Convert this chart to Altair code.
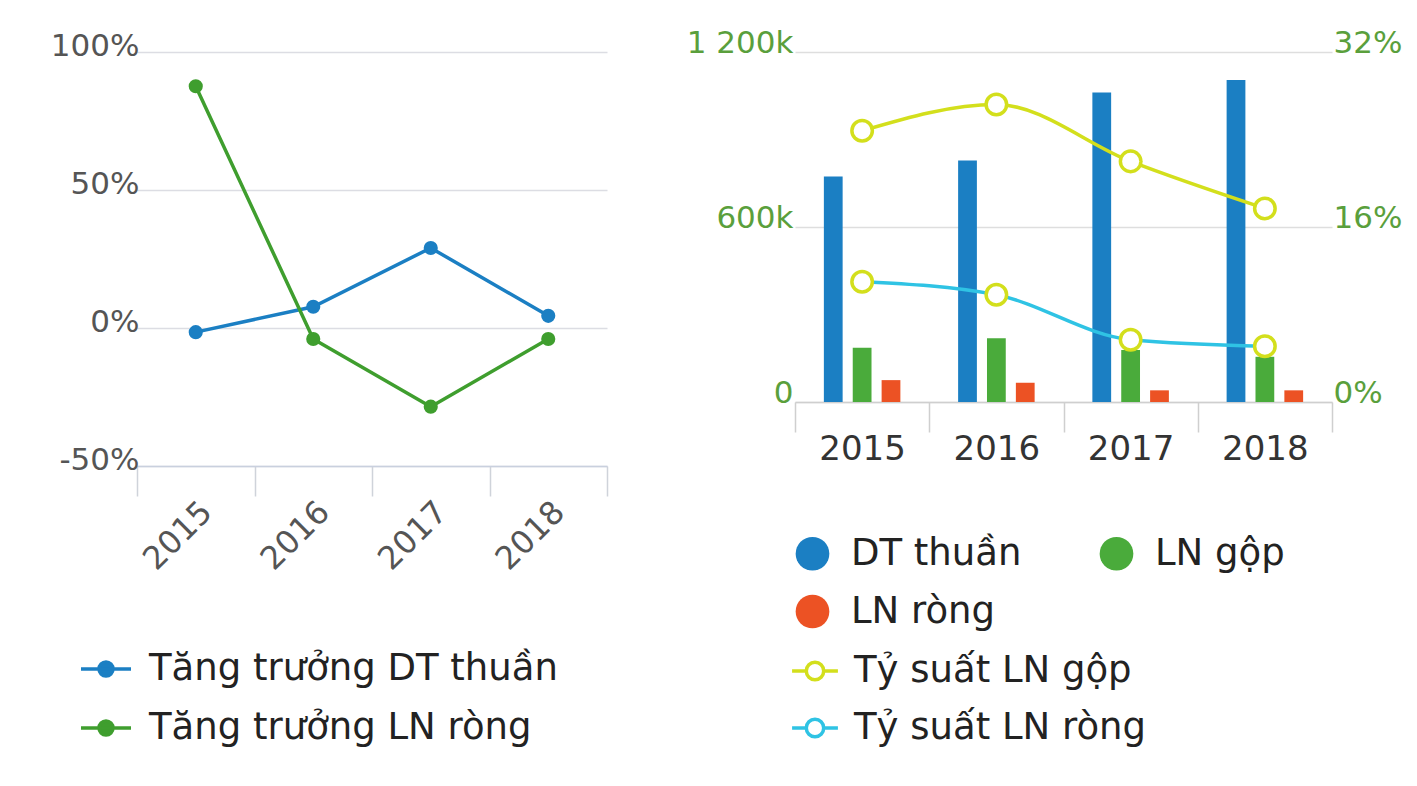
import altair as alt
import pandas as pd

years = ["2015", "2016", "2017", "2018"]

# Left panel: growth (%)
growth_names = ["Tăng trưởng DT thuần", "Tăng trưởng LN ròng"]
growth_dt = [-1.5, 7.7, 29.0, 4.4]
growth_ln = [87.6, -4.0, -28.5, -4.0]

# Right panel: values (k) and margins (%)
bar_names = ["DT thuần", "LN gộp", "LN ròng"]
bar_legend_order = ["DT thuần", "LN ròng", "LN gộp"]
dt_thuan = [773, 828, 1061, 1104]
ln_gop = [186, 219, 178, 155]
ln_rong = [75, 66, 40, 40]

ratio_names = ["Tỷ suất LN gộp", "Tỷ suất LN ròng"]
ts_gop = [24.8, 27.2, 22.0, 17.7]
ts_rong = [11.0, 9.8, 5.7, 5.1]

FONT = "DejaVu Sans"
BLUE = "#1b7fc3"
GREEN_L = "#3f9e2e"
GREEN_B = "#4aab3b"
RED = "#ec5224"
YELLOW = "#d3df1c"
CYAN = "#2fc3e4"
AXIS_GREEN = "#5a9f3c"

left_df = pd.DataFrame({
    "year": years * 2,
    "value": growth_dt + growth_ln,
    "series": [growth_names[0]] * 4 + [growth_names[1]] * 4,
})

bars_df = pd.DataFrame({
    "year": years * 3,
    "value": dt_thuan + ln_gop + ln_rong,
    "series": [bar_names[0]] * 4 + [bar_names[1]] * 4 + [bar_names[2]] * 4,
})

ratio_df = pd.DataFrame({
    "year": years * 2,
    "value": ts_gop + ts_rong,
    "series": [ratio_names[0]] * 4 + [ratio_names[1]] * 4,
})

line_dot_path = ("M-1,0L1,0M-0.28,0A0.28,0.28,0,1,1,0.28,0"
                 "A0.28,0.28,0,1,1,-0.28,0Z")
ring_path = ("M-1,0L-0.38,0M0.38,0L1,0M-0.38,0A0.38,0.38,0,1,1,0.38,0"
             "A0.38,0.38,0,1,1,-0.38,0Z")

# ---------------- Left panel ----------------
xL = alt.X(
    "year:N", sort=years,
    scale=alt.Scale(type="band", paddingInner=0, paddingOuter=0),
    axis=alt.Axis(title=None, labelAngle=-45, tickBand="extent", grid=False,
                  domain=True, domainColor="#c9d0de", domainWidth=1.5,
                  ticks=True, tickSize=30, tickColor="#cfd3da", tickWidth=1.5,
                  labelFont=FONT, labelFontSize=32, labelColor="#555555",
                  labelPadding=0),
)
yL = alt.Y(
    "value:Q",
    scale=alt.Scale(domain=[-50, 100], nice=False, zero=False),
    axis=alt.Axis(title=None, values=[-50, 0, 50, 100], grid=True,
                  gridColor="#dcdde3", gridWidth=1.5, domain=False, ticks=False,
                  labelExpr="datum.value == -50 ? '-50%' : datum.value + '%'",
                  labelFont=FONT, labelFontSize=31, labelColor="#555555",
                  labelPadding=-2, labelBaseline="middle", labelOffset=-6,
                  minExtent=120, maxExtent=120),
)
colL = alt.Color(
    "series:N", sort=growth_names,
    scale=alt.Scale(domain=growth_names, range=[BLUE, GREEN_L]),
    legend=alt.Legend(
        title=None, orient="none", legendX=-58, legendY=590,
        symbolType=line_dot_path, symbolSize=2500, symbolStrokeWidth=3.5,
        labelFont=FONT, labelFontSize=37, labelColor="#222222",
        labelOffset=16, labelLimit=700, rowPadding=14, padding=0),
)

left_lines = alt.Chart(left_df).mark_line(strokeWidth=3.5).encode(
    x=xL, y=yL, color=colL)
left_pts = alt.Chart(left_df).mark_point(filled=True, size=200, opacity=1).encode(
    x=xL, y=yL, color=colL)
left = alt.layer(left_lines, left_pts).properties(width=470, height=414)

# ---------------- Right panel ----------------
xR = alt.X(
    "year:N", sort=years,
    scale=alt.Scale(type="band", paddingInner=0, paddingOuter=0),
    axis=alt.Axis(title=None, labelAngle=0, tickBand="extent", grid=False,
                  domain=True, domainColor="#cfcfcf", domainWidth=1.5,
                  ticks=True, tickSize=30, tickColor="#cfcfcf", tickWidth=1.5,
                  labelFont=FONT, labelFontSize=34, labelColor="#333333",
                  labelPadding=0),
)

bars = alt.Chart(bars_df).mark_bar().encode(
    x=xR,
    xOffset=alt.XOffset("series:N", sort=bar_names,
                        scale=alt.Scale(domain=bar_names, paddingInner=0.35,
                                        paddingOuter=1)),
    y=alt.Y("value:Q",
            scale=alt.Scale(domain=[0, 1200], nice=False),
            axis=alt.Axis(title=None, values=[0, 600, 1200], grid=True,
                          gridColor="#dedede", gridWidth=1.5, domain=False,
                          ticks=False,
                          labelExpr="datum.value == 0 ? '0' : replace(format(datum.value, ','), ',', ' ') + 'k'",
                          labelFont=FONT, labelFontSize=31, labelColor=AXIS_GREEN,
                          labelPadding=2, labelBaseline="alphabetic", labelOffset=0,
                          minExtent=110, maxExtent=110)),
    fill=alt.Fill("series:N", sort=bar_legend_order,
                  scale=alt.Scale(domain=bar_legend_order,
                                  range=[BLUE, RED, GREEN_B]),
                  legend=alt.Legend(
                      title=None, orient="none", legendX=657, legendY=483,
                      columns=2, symbolType="circle", symbolSize=1134,
                      symbolStrokeWidth=0, labelFont=FONT, labelFontSize=37,
                      labelColor="#222222", labelOffset=20, labelLimit=700,
                      columnPadding=76, rowPadding=20, padding=0)),
)

yRatio = alt.Y("value:Q",
               scale=alt.Scale(domain=[0, 32], nice=False),
               axis=alt.Axis(title=None, orient="right", values=[0, 16, 32],
                             grid=False, domain=False, ticks=False,
                             labelExpr="datum.value + '%'",
                             labelFont=FONT, labelFontSize=31,
                             labelColor=AXIS_GREEN, labelPadding=1,
                             labelBaseline="alphabetic", labelOffset=0))

ratio_lines = alt.Chart(ratio_df).mark_line(
    interpolate="monotone", strokeWidth=3.5).encode(
    x=xR, y=yRatio,
    stroke=alt.Stroke("series:N", sort=ratio_names,
                      scale=alt.Scale(domain=ratio_names, range=[YELLOW, CYAN]),
                      legend=alt.Legend(
                          title=None, orient="none", legendX=653, legendY=594,
                          symbolType=ring_path, symbolSize=2100,
                          symbolStrokeWidth=3.5, symbolFillColor="white",
                          labelFont=FONT, labelFontSize=37, labelColor="#222222",
                          labelOffset=14, labelLimit=700, rowPadding=14,
                          padding=0)),
)
ratio_pts = alt.Chart(ratio_df).mark_point(
    filled=True, fill="white", stroke=YELLOW, strokeWidth=3.5, size=420,
    opacity=1).encode(x=xR, y=yRatio)

right = alt.layer(
    bars, alt.layer(ratio_lines, ratio_pts)
).resolve_scale(y="independent").properties(width=537, height=350)

chart = alt.hconcat(left, right, spacing=77).properties(
    padding={"top": 19, "left": 9, "right": 5, "bottom": 5},
    background="white",
).configure_view(stroke="transparent", strokeWidth=0)

chart.save("out.html", embed_options={"renderer": "svg", "actions": False})
